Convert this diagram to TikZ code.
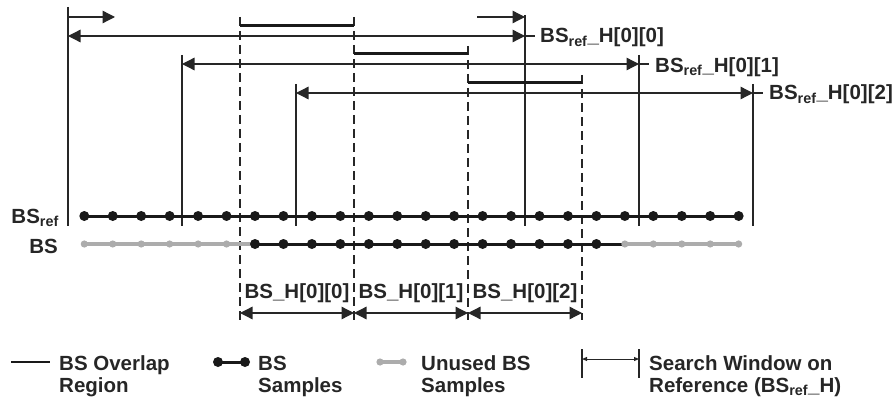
\documentclass[tikz,border=0pt]{standalone}
\usepackage{fontspec}
\setmainfont{Liberation Sans}
\usetikzlibrary{arrows.meta}
\newcommand\BSr{BS\textsubscript{ref}}
\definecolor{unusedgray}{RGB}{172,172,172}
\begin{document}
\begin{tikzpicture}[x=1pt,y=-1pt,
  thinl/.style={line width=1.3pt,draw=black!85},
  dashl/.style={line width=1.3pt,draw=black!85,dash pattern=on 9pt off 5pt},
  bigtips/.style={{Triangle[length=12.5pt,width=12.5pt]}-{Triangle[length=12.5pt,width=12.5pt]}},
  righttip/.style={-{Triangle[length=12.5pt,width=12.5pt]}},
  bar/.style={line width=3pt,draw=black!90},
  rowline/.style={line width=3pt,draw=black!90},
  grayline/.style={line width=3.2pt,draw=unusedgray},
  lab/.style={font=\fontsize{20.5}{22}\selectfont\bfseries,text=black!85,inner sep=0pt}]
\useasboundingbox (0,0) rectangle (896,398);

% solid vertical window lines
\coordinate (v0t) at (68,7);    \coordinate (v0b) at (68,226);
\coordinate (v1t) at (182,55);  \coordinate (v1b) at (182,226);
\coordinate (v2t) at (296,84);  \coordinate (v2b) at (296,226);
\coordinate (v3t) at (525,15);  \coordinate (v3b) at (525,226);
\coordinate (v4t) at (639,55);  \coordinate (v4b) at (639,226);
\coordinate (v5t) at (753,84);  \coordinate (v5b) at (753,226);
\foreach \i in {0,...,5} \draw[thinl] (v\i t) -- (v\i b);

% dashed lines
\coordinate (d0t) at (240,17);  \coordinate (d0b) at (240,320);
\coordinate (d1t) at (354,17);  \coordinate (d1b) at (354,320);
\coordinate (d2t) at (468,46);  \coordinate (d2b) at (468,320);
\coordinate (d3t) at (582,75);  \coordinate (d3b) at (582,320);
\foreach \i in {0,...,3} \draw[dashl] (d\i t) -- (d\i b);

% small top arrows
\coordinate (sa0) at (68,17);  \coordinate (sa1) at (115,17);
\coordinate (sb0) at (477,17); \coordinate (sb1) at (525,17);
\draw[thinl,righttip] (sa0) -- (sa1);
\draw[thinl,righttip] (sb0) -- (sb1);

% search window arrows
\coordinate (w0a) at (68,36);  \coordinate (w0b) at (525,36); \coordinate (w0c) at (535,36);
\coordinate (w1a) at (182,64); \coordinate (w1b) at (639,64); \coordinate (w1c) at (649,64);
\coordinate (w2a) at (296,93); \coordinate (w2b) at (753,93); \coordinate (w2c) at (763,93);
\foreach \i in {0,1,2} {
  \draw[thinl,bigtips] (w\i a) -- (w\i b);
  \draw[thinl] (w\i b) -- (w\i c);
}
\node[lab,anchor=base west] (h0) at (540,43) {\BSr\_H[0][0]};
\node[lab,anchor=base west] (h1) at (655,72.5) {\BSr\_H[0][1]};
\node[lab,anchor=base west] (h2) at (769,100) {\BSr\_H[0][2]};

% overlap bars
\coordinate (o0a) at (240,26); \coordinate (o0b) at (354,26);
\coordinate (o1a) at (354,54); \coordinate (o1b) at (468,54);
\coordinate (o2a) at (468,83); \coordinate (o2b) at (582,83);
\foreach \i in {0,1,2} \draw[bar] (o\i a) -- (o\i b);

% BSref row
\coordinate (r0) at (84.3,216); \coordinate (r23) at (738.7,216);
\draw[rowline] (r0) -- (r23);
\foreach \k in {0,...,23} \fill[black!90] (84.3+28.45*\k,216) circle (5pt);

% BS row
\coordinate (s0) at (84.3,244);  \coordinate (s6) at (255.0,244);
\coordinate (s19) at (624.9,244); \coordinate (s23) at (738.7,244);
\draw[grayline] (s0) -- (s6);
\draw[grayline] (s19) -- (s23);
\draw[rowline] (s6) -- (s19);
\foreach \k in {0,...,5,19,20,21,22,23} \fill[unusedgray] (84.3+28.45*\k,244) circle (3.6pt);
\foreach \k in {6,...,18} \fill[black!90] (84.3+28.45*\k,244) circle (5pt);

\node[lab,anchor=base east] (lref) at (59,223.5) {\BSr};
\node[lab,anchor=base east] (lbs) at (58,253) {BS};

% BS_H arrows and labels
\coordinate (m0) at (240,313); \coordinate (m1) at (354,313);
\coordinate (m2) at (468,313); \coordinate (m3) at (582,313);
\draw[thinl,bigtips] (m0) -- (m1);
\draw[thinl,bigtips] (m1) -- (m2);
\draw[thinl,bigtips] (m2) -- (m3);
\node[lab,anchor=base] (bh0) at (297,298) {BS\_H[0][0]};
\node[lab,anchor=base] (bh1) at (411,298) {BS\_H[0][1]};
\node[lab,anchor=base] (bh2) at (525,298) {BS\_H[0][2]};

% legend
\coordinate (g0a) at (11,362); \coordinate (g0b) at (50,362);
\draw[line width=2.2pt,draw=black!90] (g0a) -- (g0b);
\node[lab,anchor=base west] (t0a) at (59,370) {BS Overlap};
\node[lab,anchor=base west] (t0b) at (59,392) {Region};

\coordinate (g1a) at (218,362); \coordinate (g1b) at (245,362);
\draw[rowline] (g1a) -- (g1b);
\fill[black!90] (g1a) circle (5pt); \fill[black!90] (g1b) circle (5pt);
\node[lab,anchor=base west] (t1a) at (258,370) {BS};
\node[lab,anchor=base west] (t1b) at (258,392) {Samples};

\coordinate (g2a) at (380,362); \coordinate (g2b) at (403,362);
\draw[grayline] (g2a) -- (g2b);
\fill[unusedgray] (g2a) circle (3.6pt); \fill[unusedgray] (g2b) circle (3.6pt);
\node[lab,anchor=base west] (t2a) at (421,370) {Unused BS};
\node[lab,anchor=base west] (t2b) at (421,392) {Samples};

\coordinate (g3t) at (582,349); \coordinate (g3b) at (582,378);
\coordinate (g4t) at (639,349); \coordinate (g4b) at (639,378);
\draw[thinl] (g3t) -- (g3b);
\draw[thinl] (g4t) -- (g4b);
\coordinate (g5a) at (582,359); \coordinate (g5b) at (639,359);
\draw[line width=1pt,draw=black!85,{Triangle[length=5pt,width=4pt]}-{Triangle[length=5pt,width=4pt]}] (g5a) -- (g5b);
\node[lab,anchor=base west] (t3a) at (649,370) {Search Window on};
\node[lab,anchor=base west] (t3b) at (649,392) {Reference (\BSr\_H)};
\end{tikzpicture}
\end{document}
